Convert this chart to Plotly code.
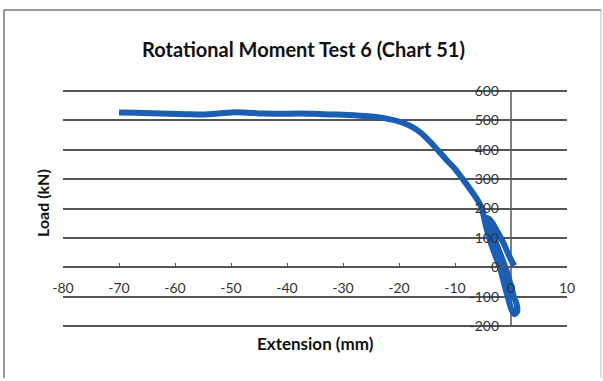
import plotly.graph_objects as go

# Extension (mm) and Load (kN)
extension = [-70, -67, -64, -61, -58, -55, -52, -50, -47, -44, -41, -38, -35, -32, -30,
             -28, -26, -24, -22, -20, -18, -16, -14.5, -13, -11.5, -10, -8.6, -7, -6, -5.2,
             -4.6, -3.9, -3.0, -2.0, -1.3, -0.6, 0.0, 0.6, 1.1, 1.0, 0.5, -0.2, -1.0, -2.0, -3.0,
             -3.7, -4.1, -3.3, -2.4, -1.4, -0.6, 0.1, 0.6]
load = [527, 526, 524, 522, 521, 520, 524, 527, 526, 523, 522, 523, 522, 520, 519,
        517, 515, 511, 505, 496, 481, 456, 428, 397, 365, 335, 300, 258, 230, 200,
        150, 100, 50, 0, -50, -100, -140, -160, -150, -125, -100, -50, 0, 50, 100,
        140, 168, 150, 120, 85, 50, 22, 5]

x_ticks = [-80, -70, -60, -50, -40, -30, -20, -10, 0, 10]
x_tick_text = ["-80", "-70", "-60", "-50", "-40", "-30", "-20", "-10", "0", "10"]
y_ticks = [-200, -100, 0, 100, 200, 300, 400, 500, 600]
y_tick_text = ["-200", "-100", "0", "100", "200", "300", "400", "500", "600"]

fig = go.Figure()
fig.add_trace(go.Scatter(
    x=extension, y=load, mode="lines",
    line=dict(color="#1b5fb5", width=6, shape="spline", smoothing=0.6),
    showlegend=False, hoverinfo="skip"))

W, H = 603, 381
Y_LO, Y_HI = -210, 610
L, R, T, B = 63, 36, 88, 52
pw, ph = W - L - R, H - T - B

def fx(px):
    return (px - L) / pw

def fy(py):
    return (H - B - py) / ph

FONT = "Lato, 'Open Sans', sans-serif"
axis_font = dict(family=FONT, size=14, color="#333")

fig.update_layout(
    width=W, height=H,
    margin=dict(l=L, r=R, t=T, b=B),
    paper_bgcolor="white", plot_bgcolor="white",
    xaxis=dict(range=[-80, 10], tickvals=x_ticks, ticktext=x_tick_text,
               anchor="free", position=(0 - Y_LO) / (Y_HI - Y_LO),
               showgrid=False, zeroline=False, showline=True, linecolor="#555",
               linewidth=1.5, ticks="inside", ticklen=4, tickcolor="#555",
               tickfont=axis_font, ticklabelstandoff=8),
    yaxis=dict(range=[Y_LO, Y_HI], tickvals=y_ticks, ticktext=y_tick_text,
               anchor="free", position=80 / 90,
               showgrid=True, gridcolor="#555", gridwidth=1.5, zeroline=False,
               showline=False, ticks="", tickfont=axis_font, ticklabelstandoff=12),
    annotations=[
        dict(text="<b>Rotational Moment Test 6 (Chart 51)</b>", xref="paper", yref="paper",
             x=fx(303), y=fy(49), xanchor="center", yanchor="middle", showarrow=False,
             font=dict(family=FONT, size=20, color="#111")),
        dict(text="<b>Extension (mm)</b>", xref="paper", yref="paper",
             x=fx(315), y=fy(343), xanchor="center", yanchor="middle", showarrow=False,
             font=dict(family=FONT, size=17, color="#111")),
        dict(text="<b>Load (kN)</b>", xref="paper", yref="paper",
             x=fx(42), y=fy(203), xanchor="center", yanchor="middle", showarrow=False,
             textangle=-90, font=dict(family=FONT, size=16, color="#111")),
    ],
    shapes=[
        # vertical value axis through x = 0, from -200 to 600
        dict(type="line", xref="x", yref="y", x0=0, x1=0, y0=-200, y1=600,
             line=dict(color="#555", width=1.5), layer="below"),
        dict(type="line", xref="paper", yref="paper", x0=fx(4), x1=fx(4), y0=fy(10), y1=fy(378),
             line=dict(color="#777", width=1.5)),
        dict(type="line", xref="paper", yref="paper", x0=fx(4), x1=fx(601), y0=fy(10), y1=fy(10),
             line=dict(color="#777", width=1.5)),
        dict(type="line", xref="paper", yref="paper", x0=fx(601), x1=fx(601), y0=fy(10), y1=fy(378),
             line=dict(color="#bbb", width=1)),
    ],
)

fig.write_html("out.html", post_script="document.body.style.margin='0';",
               config={"displayModeBar": False})
